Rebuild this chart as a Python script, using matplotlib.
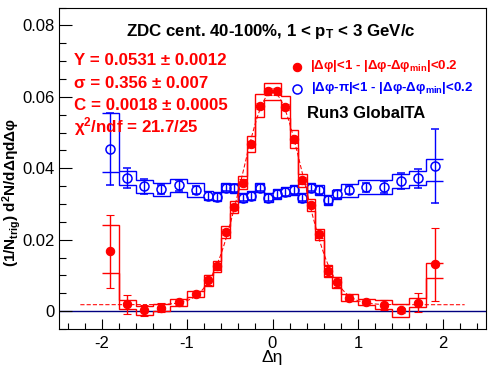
import numpy as np
import matplotlib
matplotlib.use("Agg")
import matplotlib.pyplot as plt
from matplotlib.ticker import MultipleLocator, FixedLocator, FuncFormatter

plt.rcParams['font.family'] = ['Liberation Sans', 'DejaVu Sans']
plt.rcParams['mathtext.fontset'] = 'custom'
plt.rcParams['mathtext.rm'] = 'Liberation Sans:bold'
plt.rcParams['mathtext.it'] = 'Liberation Sans:bold'
plt.rcParams['mathtext.bf'] = 'Liberation Sans:bold'
plt.rcParams['axes.unicode_minus'] = False

# ---------------- data ----------------
bin_edges = [-2.0, -1.8, -1.6, -1.4, -1.2, -1.0, -0.8, -0.7, -0.6, -0.5, -0.4,
             -0.3, -0.2, -0.1, 0.0, 0.1, 0.2, 0.3, 0.4, 0.5, 0.6, 0.7, 0.8,
             1.0, 1.2, 1.4, 1.6, 1.8, 2.0]

near_y = [0.0167, 0.0019, 0.0002, 0.0010, 0.0025, 0.0048, 0.0086, 0.0125,
          0.0222, 0.0292, 0.0360, 0.0468, 0.0575, 0.0615, 0.0615, 0.0571,
          0.0481, 0.0366, 0.0297, 0.0215, 0.0112, 0.0081, 0.0038, 0.0025,
          0.0018, 0.0002, 0.0024, 0.0131]
near_stat = [0.0101, 0.0026, 0.0016, 0.0013, 0.0008, 0.0008, 0.0014, 0.0009,
             0.0009, 0.0009, 0.0009, 0.0009, 0.0009, 0.0009, 0.0009, 0.0009,
             0.0009, 0.0009, 0.0009, 0.0009, 0.0013, 0.0014, 0.0008, 0.0008,
             0.0014, 0.0008, 0.0026, 0.0102]
near_sys_up = [0.0073, 0.0012, 0.0012, 0.0010, 0.0010, 0.0009, 0.0015, 0.0016,
               0.0016, 0.0017, 0.0019, 0.0023, 0.0032, 0.0023, 0.0023, 0.0030,
               0.0025, 0.0019, 0.0017, 0.0016, 0.0016, 0.0015, 0.0011, 0.0009,
               0.0012, 0.0018, 0.0012, 0.0005]
near_sys_dn = [0.0059, 0.0012, 0.0012, 0.0010, 0.0010, 0.0009, 0.0015, 0.0016,
               0.0016, 0.0017, 0.0019, 0.0023, 0.0032, 0.0023, 0.0023, 0.0030,
               0.0025, 0.0019, 0.0017, 0.0016, 0.0016, 0.0015, 0.0011, 0.0009,
               0.0012, 0.0018, 0.0012, 0.0037]

away_y = [0.0453, 0.0372, 0.0349, 0.0341, 0.0352, 0.0339, 0.0323, 0.0320,
          0.0346, 0.0344, 0.0318, 0.0323, 0.0346, 0.0318, 0.0328, 0.0334,
          0.0339, 0.0318, 0.0346, 0.0339, 0.0311, 0.0327, 0.0338, 0.0347,
          0.0347, 0.0364, 0.0372, 0.0406]
away_stat = [0.0101, 0.0028, 0.0020, 0.0012, 0.0015, 0.0010, 0.0011, 0.0011,
             0.0011, 0.0011, 0.0011, 0.0011, 0.0011, 0.0011, 0.0011, 0.0011,
             0.0011, 0.0011, 0.0011, 0.0011, 0.0011, 0.0011, 0.0011, 0.0013,
             0.0016, 0.0022, 0.0026, 0.0103]
away_sys_up = [0.0102, 0.0020, 0.0019, 0.0019, 0.0019, 0.0019, 0.0013, 0.0013,
               0.0013, 0.0013, 0.0013, 0.0013, 0.0013, 0.0013, 0.0013, 0.0013,
               0.0013, 0.0013, 0.0013, 0.0013, 0.0013, 0.0013, 0.0019, 0.0019,
               0.0019, 0.0019, 0.0020, 0.0019]
away_sys_dn = [0.0063, 0.0020, 0.0019, 0.0019, 0.0019, 0.0019, 0.0013, 0.0013,
               0.0013, 0.0013, 0.0013, 0.0013, 0.0013, 0.0013, 0.0013, 0.0013,
               0.0013, 0.0013, 0.0013, 0.0013, 0.0013, 0.0013, 0.0019, 0.0019,
               0.0019, 0.0019, 0.0020, 0.0042]

fit_Y = 0.0531
fit_sigma = 0.356
fit_C = 0.0018
fit_range = [-2.25, 2.25]

x_ticks = [-2, -1, 0, 1, 2]
y_ticks = [0, 0.02, 0.04, 0.06, 0.08]

# ---------------- figure ----------------
W, H = 496, 374
fig = plt.figure(figsize=(W / 100, H / 100), dpi=100)
L, R, T, B = 59, 486, 7.5, 329
ax = fig.add_axes([L / W, 1 - B / H, (R - L) / W, (B - T) / H])

edges = np.array(bin_edges)
xc = 0.5 * (edges[:-1] + edges[1:])

RED = '#ff0000'
BLUE = '#0000ff'

def fx(x):
    return x / W

def fy(y):
    return 1 - y / H

# zero line
ax.axhline(0, color='#000080', lw=1.0, zorder=1)

# away side (blue)
ay = np.array(away_y)
ax.stairs(ay + np.array(away_sys_up), edges, baseline=None, color=BLUE, lw=1.0, zorder=2)
ax.stairs(ay - np.array(away_sys_dn), edges, baseline=None, color=BLUE, lw=1.0, zorder=2)
ax.errorbar(xc, ay, yerr=away_stat, fmt='o', color=BLUE, mfc='none', mec=BLUE,
            ms=6.5, mew=1.1, elinewidth=1.0, capsize=2.6, capthick=1.0, zorder=3)

# near side (red)
ny = np.array(near_y)
ax.stairs(ny + np.array(near_sys_up), edges, baseline=None, color=RED, lw=1.0, zorder=4)
ax.stairs(ny - np.array(near_sys_dn), edges, baseline=None, color=RED, lw=1.0, zorder=4)
ax.errorbar(xc, ny, yerr=near_stat, fmt='o', color=RED, mfc=RED, mec=RED,
            ms=6.0, mew=0.8, elinewidth=1.0, capsize=2.6, capthick=1.0, zorder=5)

# fit function: C + Y * Gaussian
xf = np.linspace(fit_range[0], fit_range[1], 200)
yf = fit_C + fit_Y / (np.sqrt(2 * np.pi) * fit_sigma) * np.exp(-xf ** 2 / (2 * fit_sigma ** 2))
ax.plot(xf, yf, color=RED, lw=0.75, ls=(0, (4, 2)), zorder=4.5)

# axes
ax.set_xlim(-2.5, 2.5)
ax.set_ylim(-0.005, 0.085)
ax.xaxis.set_major_locator(FixedLocator(x_ticks))
ax.xaxis.set_minor_locator(MultipleLocator(0.2))
ax.yaxis.set_major_locator(FixedLocator(y_ticks))
ax.yaxis.set_minor_locator(MultipleLocator(0.005))
ax.xaxis.set_major_formatter(FuncFormatter(lambda v, p: f"{v:g}"))
ax.yaxis.set_major_formatter(FuncFormatter(lambda v, p: f"{v:g}"))
ax.tick_params(axis='both', which='both', direction='in', top=False, right=False,
               labelsize=12, width=0.8)
ax.tick_params(axis='y', which='major', length=9, pad=3)
ax.tick_params(axis='y', which='minor', length=4.7)
ax.tick_params(axis='x', which='major', length=7, pad=5)
ax.tick_params(axis='x', which='minor', length=4)
for s in ax.spines.values():
    s.set_linewidth(0.8)

# axis titles
fig.text(fx(272.5), fy(362), 'Δη', ha='center', va='baseline', fontsize=12.5)
fig.text(fx(12), fy(192), '(1/N$_{trig}$) d$^{2}$N/dΔηdΔφ', ha='center', va='center',
         rotation=90, fontsize=11, fontweight='bold')

# header
fig.text(fx(126), fy(35.7), 'ZDC cent. 40-100%, 1 < p$_{T}$ < 3 GeV/c', ha='left',
         va='baseline', fontsize=12.2, fontweight='bold', color='black')

# fit results
fit_lines = ['Y = 0.0531 ± 0.0012', 'σ = 0.356 ± 0.007', 'C = 0.0018 ± 0.0005',
             'χ$^{2}$/ndf = 21.7/25']
for i, s in enumerate(fit_lines):
    fig.text(fx(74), fy(65 + 22.5 * i), s, ha='left', va='baseline', fontsize=12.2,
             fontweight='bold', color=RED)

# legend
ax.plot([fx(297.3)], [fy(66.7)], 'o', transform=fig.transFigure, clip_on=False,
        color=RED, ms=6.0, mew=0.8)
fig.text(fx(310), fy(69.3), '|Δφ|<1 - |Δφ-Δφ$_{min}$|<0.2', ha='left', va='baseline',
         fontsize=9.5, fontweight='bold', color=RED)
ax.plot([fx(297.3)], [fy(89.3)], 'o', transform=fig.transFigure, clip_on=False,
        color=BLUE, mfc='none', ms=6.5, mew=1.1)
fig.text(fx(311), fy(91.5), '|Δφ-π|<1 - |Δφ-Δφ$_{min}$|<0.2', ha='left', va='baseline',
         fontsize=9.5, fontweight='bold', color=BLUE)
fig.text(fx(307), fy(118.3), 'Run3 GlobalTA', ha='left', va='baseline',
         fontsize=12, fontweight='bold', color='black')

fig.savefig('out.png', dpi=100)
